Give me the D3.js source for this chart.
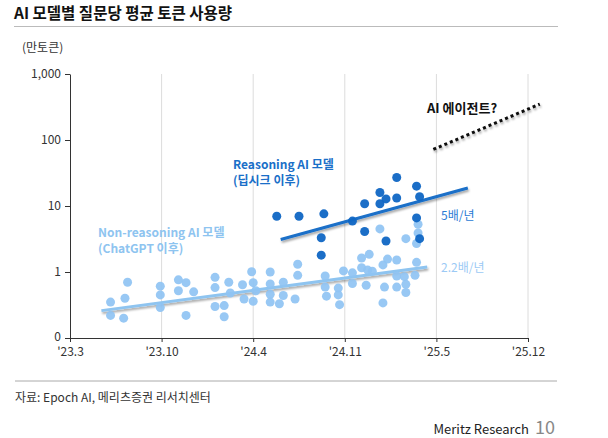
<!DOCTYPE html>
<meta charset="utf-8">
<script src="https://d3js.org/d3.v7.min.js"></script>
<style>
  body { margin: 0; background: #fff; }
  svg { font-family: "Noto Sans CJK KR", "Noto Sans", sans-serif; }
</style>
<div id="chart"></div>
<script>

// x values are months since Mar 2023, y values are 만토큰 (log scale)
var tickMonths = [0, 7, 13, 20, 26, 33];
var tickLabels = ["'23.3", "'23.10", "'24.4", "'24.11", "'25.5", "'25.12"];
var yTicks = [0.1, 1, 10, 100, 1000];
var yTickLabels = ["0", "1", "10", "100", "1,000"];

var nonReasoning = [
  [3.1,0.35],[3.1,0.22],[4.1,0.20],[4.2,0.40],[4.4,0.70],[6.9,0.61],[6.9,0.45],[6.9,0.29],
  [8.1,0.76],[8.6,0.69],[8.1,0.52],[9.1,0.50],[8.6,0.22],
  [10.5,0.83],[10.5,0.58],[10.5,0.30],[11.1,0.31],[11.1,0.21],[11.4,0.70],[11.5,0.48],
  [12.3,0.64],[12.4,0.39],[12.9,1.01],[13.0,0.69],[13.2,0.52],[13.0,0.36],[14.3,1.0],
  [14.3,0.66],[14.3,0.46],[14.3,0.35],[15.0,0.33],[15.3,0.70],[15.3,0.44],[16.2,0.39],
  [16.4,1.31],[16.4,0.89],
  [18.5,0.87],[18.5,0.59],[18.6,0.43],[19.5,0.57],[19.5,0.45],[19.6,0.32],[19.9,1.04],
  [20.5,0.97],[20.5,0.67],[21.1,1.63],[21.6,1.85],[21.1,1.16],[21.5,1.07],[21.8,1.03],
  [21.4,0.63],[22.5,1.28],[22.8,1.57],[23.4,1.52],[22.6,0.59],[22.5,0.34],[23.4,0.87],
  [23.4,0.59],[23.9,0.85],[24.0,0.65],[24.0,0.49],[24.6,0.89],[24.7,1.40],[22.3,4.5],
  [24.0,3.2],[24.8,5.3],[24.8,3.9],[24.7,2.7]
];
var reasoning = [
  [14.8,7.0],[16.5,7.0],[18.4,7.6],[18.2,3.3],[18.2,1.8],[20.5,5.9],[21.3,10.8],[21.3,4.1],
  [22.3,16],[22.3,10.8],[22.7,12.8],[22.7,2.95],[23.4,27],[23.4,13.2],[24.7,20],[24.9,13.8],
  [24.7,6.6],[24.9,3.2]
];
var nonReasoningTrend = [[2.4,0.26],[25.4,1.19]];
var reasoningTrend = [[15.1,3.1],[28.4,18.7]];
var agentTrend = [[25.8,72],[33.9,350]];

var margin = {top: 74, left: 70},
    width = 458,
    height = 264;

var svg = d3.select("#chart")
  .append("svg")
    .attr("width", 608)
    .attr("height", 438);

// drop shadow for trend lines
var defs = svg.append("defs");
var f = defs.append("filter").attr("id", "shadow")
  .attr("x", "-10%").attr("y", "-50%").attr("width", "120%").attr("height", "200%");
f.append("feDropShadow").attr("dx", 1).attr("dy", 2).attr("stdDeviation", 1.2)
  .attr("flood-color", "#000").attr("flood-opacity", 0.35);

// title
svg.append("text").attr("x", 14).attr("y", 19)
  .text("AI 모델별 질문당 평균 토큰 사용량")
  .style("font-size", "15.5px").style("font-weight", "bold").style("fill", "#111");
svg.append("line").attr("x1", 14).attr("x2", 558).attr("y1", 26.5).attr("y2", 26.5)
  .style("stroke", "#bbb").style("stroke-width", 1.2);

svg.append("text").attr("x", 22).attr("y", 52)
  .text("(만토큰)").style("font-size", "12px").style("fill", "#333");

var g = svg.append("g")
  .attr("transform", "translate(" + margin.left + "," + margin.top + ")");

var x = d3.scaleLinear()
  .domain(tickMonths)
  .range(tickMonths.map(function(d, i) { return i * width / (tickMonths.length - 1); }));

var y = d3.scaleLog()
  .domain([0.1, 1000])
  .range([height, 0]);

// vertical grid
g.selectAll(".grid")
  .data(tickMonths.slice(1))
  .enter().append("line")
    .attr("x1", function(d) { return x(d); })
    .attr("x2", function(d) { return x(d); })
    .attr("y1", 0).attr("y2", height)
    .style("stroke", "#dcdcdc").style("stroke-width", 1);

// axes
var xAxis = g.append("g")
  .attr("transform", "translate(0," + height + ")")
  .call(d3.axisBottom(x).tickValues(tickMonths)
    .tickFormat(function(d, i) { return tickLabels[i]; })
    .tickSize(4).tickSizeOuter(0).tickPadding(5));

var yAxis = g.append("g")
  .call(d3.axisLeft(y).tickValues(yTicks)
    .tickFormat(function(d, i) { return yTickLabels[i]; })
    .tickSize(5).tickSizeOuter(0).tickPadding(4));

[xAxis, yAxis].forEach(function(a) {
  a.select(".domain").style("stroke", "#333");
  a.selectAll(".tick line").style("stroke", "#333");
  a.selectAll("text").style("font-size", "12px").style("fill", "#333")
    .style("font-family", "\"Noto Sans CJK KR\", sans-serif");
});
// keep the "0" label clear of the first x label
yAxis.selectAll(".tick text").filter(function(d) { return d === 0.1; }).attr("dy", "0.2em");

var line = d3.line()
  .x(function(d) { return x(d[0]); })
  .y(function(d) { return y(d[1]); });

// trend lines
g.append("path").datum(nonReasoningTrend).attr("d", line)
  .style("fill", "none").style("stroke", "#8ec4f0").style("stroke-width", 3)
  .attr("filter", "url(#shadow)");
g.append("path").datum(reasoningTrend).attr("d", line)
  .style("fill", "none").style("stroke", "#1a6fc8").style("stroke-width", 3)
  .attr("filter", "url(#shadow)");
g.append("path").datum(agentTrend).attr("d", line)
  .style("fill", "none").style("stroke", "#111").style("stroke-width", 3)
  .style("stroke-dasharray", "3,3")
  .attr("filter", "url(#shadow)");

// points
g.selectAll(".nr")
  .data(nonReasoning)
  .enter().append("circle")
    .attr("cx", function(d) { return x(d[0]); })
    .attr("cy", function(d) { return y(d[1]); })
    .attr("r", 4.5)
    .style("fill", "#8fc3f3").style("opacity", 0.92);

g.selectAll(".rs")
  .data(reasoning)
  .enter().append("circle")
    .attr("cx", function(d) { return x(d[0]); })
    .attr("cy", function(d) { return y(d[1]); })
    .attr("r", 4.5)
    .style("fill", "#0f66c4").style("opacity", 0.95);

// labels
svg.append("text").attr("x", 233).attr("y", 169).text("Reasoning AI 모델")
  .style("font-size", "12px").style("font-weight", "bold").style("fill", "#1a6fc8");
svg.append("text").attr("x", 233).attr("y", 185).text("(딥시크 이후)")
  .style("font-size", "12px").style("font-weight", "bold").style("fill", "#1a6fc8");
svg.append("text").attr("x", 98).attr("y", 237).text("Non-reasoning AI 모델")
  .style("font-size", "12px").style("font-weight", "bold").style("fill", "#8ec4f0");
svg.append("text").attr("x", 98).attr("y", 253).text("(ChatGPT 이후)")
  .style("font-size", "12px").style("font-weight", "bold").style("fill", "#8ec4f0");
svg.append("text").attr("x", 441).attr("y", 220).text("5배/년")
  .style("font-size", "12px").style("fill", "#2a7bd5");
svg.append("text").attr("x", 441).attr("y", 272).text("2.2배/년")
  .style("font-size", "12px").style("fill", "#9ccaf5");
svg.append("text").attr("x", 427).attr("y", 113).text("AI 에이전트?")
  .style("font-size", "13px").style("font-weight", "bold").style("fill", "#111");

// footer
svg.append("line").attr("x1", 15).attr("x2", 557).attr("y1", 381).attr("y2", 381)
  .style("stroke", "#aaa").style("stroke-width", 1);
svg.append("text").attr("x", 15).attr("y", 402).text("자료: Epoch AI, 메리츠증권 리서치센터")
  .style("font-size", "12px").style("fill", "#333");
svg.append("text").attr("x", 529).attr("y", 434).attr("text-anchor", "end")
  .text("Meritz Research").style("font-size", "13px").style("fill", "#222");
svg.append("text").attr("x", 535).attr("y", 434).text("10")
  .style("font-size", "18px").style("fill", "#888");

</script>
